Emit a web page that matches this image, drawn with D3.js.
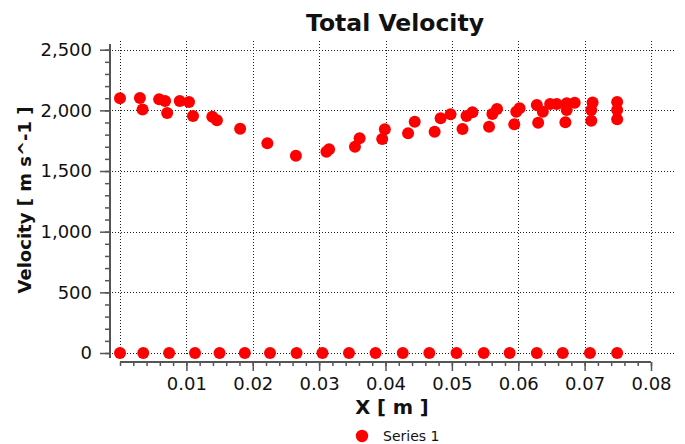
<!DOCTYPE html>
<html>
<head>
<meta charset="utf-8">
<script src="https://cdn.jsdelivr.net/npm/d3@7"></script>
<style>
  body { margin: 0; background: #fff; }
  svg { display: block; font-family: "DejaVu Sans", Verdana, sans-serif; }
</style>
</head>
<body>
<div id="chart"></div>
<script>
// Chart data
const seriesName = "Series 1";

// points lying on the wall (velocity 0)
const wallX = [0, 0.0035, 0.0074, 0.0113, 0.0150, 0.0188, 0.0226, 0.0266, 0.0305, 0.0345,
    0.0385, 0.0426, 0.0466, 0.0507, 0.0548, 0.0587, 0.0628, 0.0667, 0.0708, 0.0749];
const wallV = wallX.map(() => 0);

// points of the velocity profile
const profileX = [0.0000, 0.0030, 0.0034, 0.0059, 0.0068, 0.0071, 0.0090, 0.0104, 0.0110, 0.0139,
    0.0146, 0.0181, 0.0222, 0.0265, 0.0311, 0.0315, 0.0354, 0.0361, 0.0395, 0.0399,
    0.0434, 0.0444, 0.0474, 0.0483, 0.0498, 0.0516, 0.0522, 0.0531, 0.0556, 0.0561,
    0.0568, 0.0594, 0.0597, 0.0602, 0.0630, 0.0628, 0.0637, 0.0648, 0.0658, 0.0671,
    0.0673, 0.0673, 0.0685, 0.0710, 0.0710, 0.0712, 0.0749, 0.0749, 0.0749];
const profileV = [2100, 2102, 2007, 2091, 2077, 1978, 2077, 2069, 1954, 1948,
    1918, 1849, 1728, 1626, 1659, 1679, 1700, 1770, 1764, 1844,
    1811, 1907, 1824, 1935, 1968, 1846, 1954, 1984, 1865, 1970,
    2011, 1885, 1989, 2017, 1898, 2044, 1989, 2052, 2052, 1902,
    2003, 2058, 2063, 1915, 2003, 2065, 1926, 2003, 2069];

const xTicks = [0.01, 0.02, 0.03, 0.04, 0.05, 0.06, 0.07, 0.08];
const yTicks = [0, 500, 1000, 1500, 2000, 2500];

const points = wallX.map((x, i) => ({ x: x, v: wallV[i] }))
    .concat(profileX.map((x, i) => ({ x: x, v: profileV[i] })));

const svgWidth = 685;
const svgHeight = 444;

const svg = d3.select("#chart")
    .append("svg")
    .attr("width", svgWidth)
    .attr("height", svgHeight);

// scales
const xScale = d3.scaleLinear().domain([0, 0.08]).range([120, 651]);
const yScale = d3.scaleLinear().domain([0, 2500]).range([353, 49.7]);

const plotTop = 41;
const plotRight = 676;
const gridColor = "#222";

// dotted grid
svg.append("g")
    .selectAll("line")
    .data(yTicks)
    .enter()
    .append("line")
    .attr("x1", 112)
    .attr("x2", plotRight)
    .attr("y1", d => Math.round(yScale(d)) + 0.5)
    .attr("y2", d => Math.round(yScale(d)) + 0.5)
    .attr("stroke", gridColor)
    .attr("stroke-dasharray", "1,2");

svg.append("g")
    .selectAll("line")
    .data([0].concat(xTicks))
    .enter()
    .append("line")
    .attr("x1", d => Math.round(xScale(d)) + 0.5)
    .attr("x2", d => Math.round(xScale(d)) + 0.5)
    .attr("y1", plotTop)
    .attr("y2", 356)
    .attr("stroke", gridColor)
    .attr("stroke-dasharray", "1,2");

// y axis
const yAxis = svg.append("g")
    .attr("transform", "translate(110,0)")
    .call(d3.axisLeft(yScale).tickValues(d3.range(0, 2501, 100)).tickSize(5).tickFormat(""));
yAxis.select(".domain").remove();
yAxis.selectAll("line").attr("stroke", "#555").attr("stroke-width", 1.5);

const yMajor = svg.append("g")
    .attr("transform", "translate(110,0)")
    .call(d3.axisLeft(yScale).tickValues(yTicks).tickSize(10).tickPadding(8).tickFormat(d3.format(",")));
yMajor.select(".domain").remove();
yMajor.selectAll("line").attr("stroke", "#555").attr("stroke-width", 1.5);
yMajor.selectAll("text")
    .attr("font-size", "18px")
    .attr("font-family", "DejaVu Sans, sans-serif")
    .attr("fill", "#111");

svg.append("line")
    .attr("x1", 110).attr("x2", 110)
    .attr("y1", 44).attr("y2", 358)
    .attr("stroke", "#555")
    .attr("stroke-width", 2);

// x axis
const xAxisY = 362;
const xMinor = svg.append("g")
    .attr("transform", `translate(0,${xAxisY})`)
    .call(d3.axisBottom(xScale).tickValues(d3.range(0, 0.0801, 0.002)).tickSize(4).tickFormat(""));
xMinor.select(".domain").remove();
xMinor.selectAll("line").attr("stroke", "#555").attr("stroke-width", 1.5);

const xMajor = svg.append("g")
    .attr("transform", `translate(0,${xAxisY})`)
    .call(d3.axisBottom(xScale).tickValues(xTicks).tickSize(9).tickPadding(6).tickFormat(d3.format(".2f")));
xMajor.select(".domain").remove();
xMajor.selectAll("line").attr("stroke", "#555").attr("stroke-width", 1.5);
xMajor.selectAll("text")
    .attr("font-size", "18px")
    .attr("font-family", "DejaVu Sans, sans-serif")
    .attr("fill", "#111");

svg.append("line")
    .attr("x1", 120).attr("x2", 651)
    .attr("y1", xAxisY).attr("y2", xAxisY)
    .attr("stroke", "#555")
    .attr("stroke-width", 2);

// points
svg.append("g")
    .selectAll("circle")
    .data(points)
    .enter()
    .append("circle")
    .attr("cx", d => xScale(d.x))
    .attr("cy", d => yScale(d.v))
    .attr("r", 6)
    .attr("fill", "#ff0000");

// title and axis labels
svg.append("text")
    .attr("x", 395)
    .attr("y", 31)
    .attr("text-anchor", "middle")
    .attr("font-size", "23.5px")
    .attr("font-weight", "bold")
    .attr("fill", "#111")
    .text("Total Velocity");

svg.append("text")
    .attr("x", 392)
    .attr("y", 414)
    .attr("text-anchor", "middle")
    .attr("font-size", "19.5px")
    .attr("font-weight", "bold")
    .attr("fill", "#111")
    .text("X [ m ]");

svg.append("text")
    .attr("transform", "translate(31,200) rotate(-90)")
    .attr("text-anchor", "middle")
    .attr("font-size", "18px")
    .attr("font-weight", "bold")
    .attr("fill", "#111")
    .text("Velocity [ m s^-1 ]");

// legend
svg.append("circle")
    .attr("cx", 362)
    .attr("cy", 436)
    .attr("r", 6.2)
    .attr("fill", "#ff0000");

svg.append("text")
    .attr("x", 383)
    .attr("y", 441)
    .attr("font-size", "14px")
    .attr("fill", "#111")
    .text(seriesName);
</script>
</body>
</html>
